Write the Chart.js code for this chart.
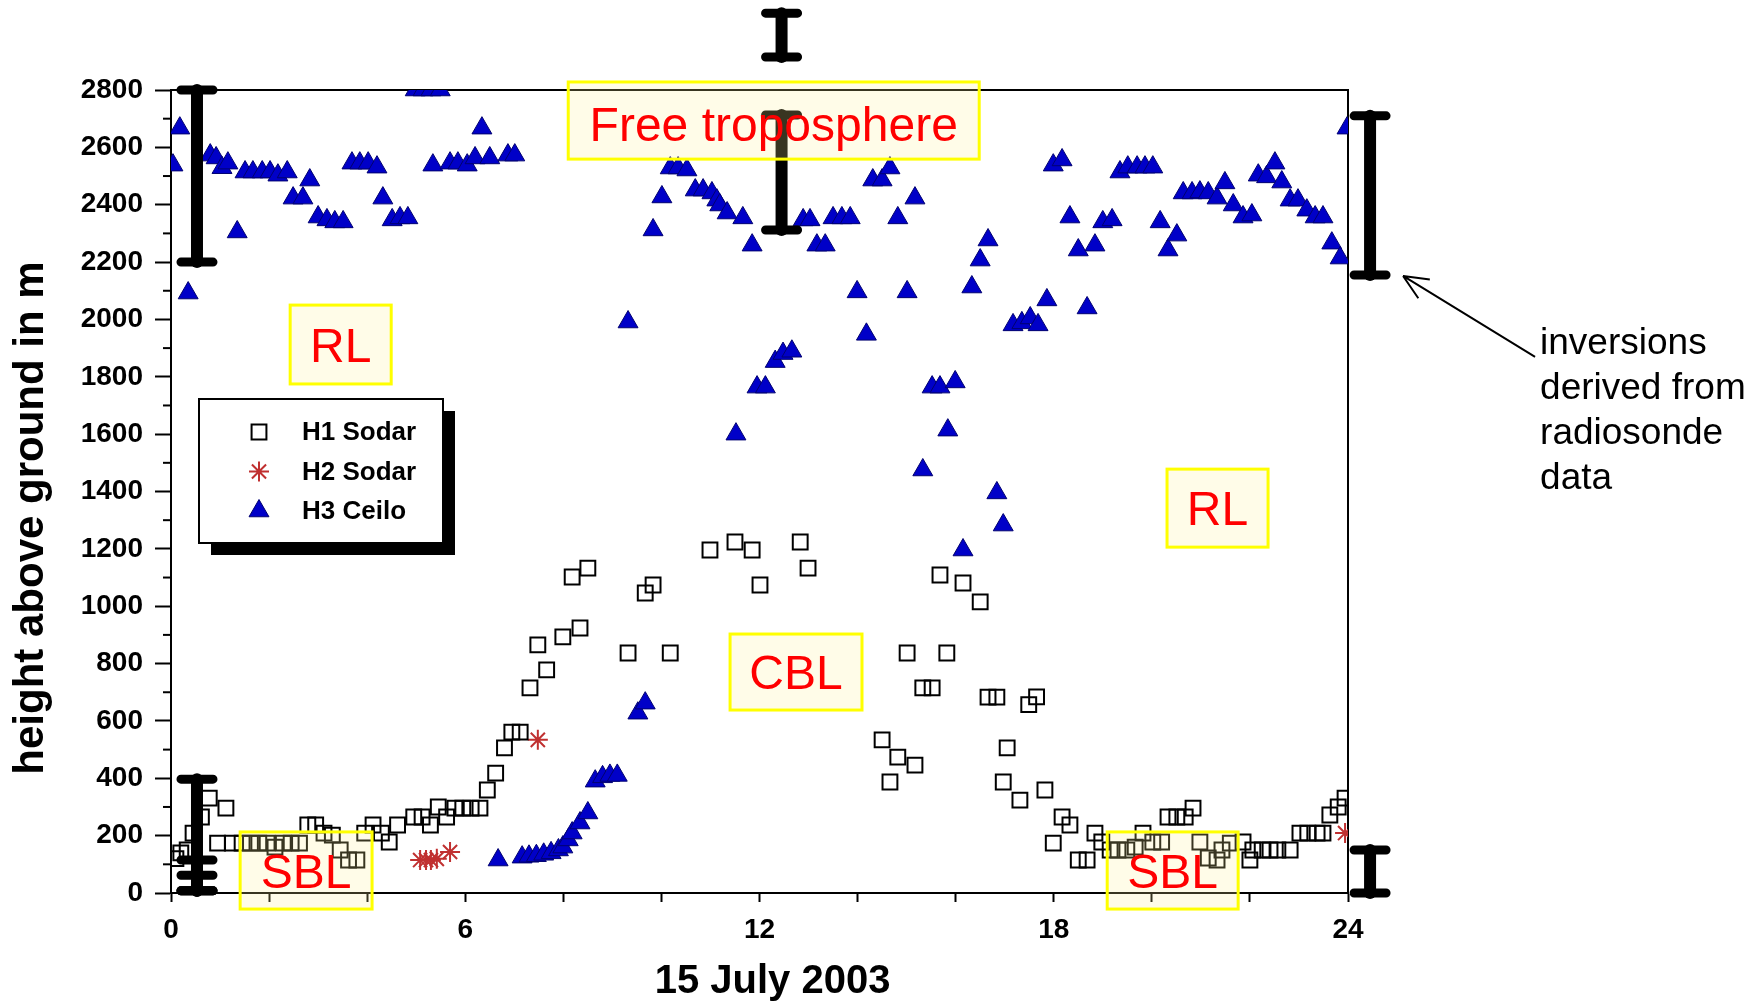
<!DOCTYPE html>
<html>
<head>
<meta charset="utf-8">
<script src="https://cdn.jsdelivr.net/npm/chart.js@4.4.0/dist/chart.umd.min.js"></script>
<style>
  html, body { margin: 0; padding: 0; background: #fff; }
  #wrap { width: 1760px; height: 1003px; }
</style>
</head>
<body>
<div id="wrap"><canvas id="chart" width="1760" height="1003"></canvas></div>
<script>
// H1 Sodar (hour of day, height in m)
const h1Hours = [0.10, 0.20, 0.33, 0.45, 0.62, 0.78, 0.95, 1.12, 1.25, 1.45, 1.62, 1.79, 1.96, 2.12, 2.29, 2.45, 2.62,
  2.79, 2.95, 3.12, 3.29, 3.45, 3.62, 3.79, 3.95, 4.12, 4.29, 4.45, 4.62, 4.95, 5.12, 5.29, 5.45, 5.62, 5.79, 5.95,
  6.12, 6.30, 6.45, 6.62, 6.80, 6.95, 7.12, 7.32, 7.48, 7.66, 7.99, 8.18, 8.34, 8.50, 9.32, 9.67, 9.83, 10.18,
  10.99, 11.50, 11.85, 12.01, 12.83, 12.99, 14.50, 14.66, 14.82, 15.01, 15.17, 15.33, 15.52, 15.68, 15.82, 16.15,
  16.50, 16.66, 16.84, 16.97, 17.05, 17.31, 17.49, 17.65, 17.82, 17.99, 18.17, 18.33, 18.50, 18.68, 18.84, 18.98,
  19.15, 19.31, 19.49, 19.66, 19.82, 20.02, 20.20, 20.33, 20.51, 20.68, 20.84, 20.98, 21.15, 21.33, 21.43, 21.60,
  21.86, 22.00, 22.06, 22.25, 22.41, 22.57, 22.82, 23.02, 23.18, 23.37, 23.49, 23.63, 23.80, 23.94];
const h1Heights = [120, 140, 150, 209, 265, 331, 174, 296, 174, 174, 174, 174, 174, 160, 174, 174, 174,
  237, 237, 209, 202, 150, 115, 115, 209, 237, 209, 178, 237, 265, 265, 237, 300, 265, 296, 296,
  296, 296, 359, 418, 506, 561, 561, 715, 865, 778, 893, 1102, 924, 1133, 837, 1046, 1074, 837,
  1196, 1224, 1196, 1074, 1224, 1133, 534, 387, 474, 837, 446, 715, 715, 1109, 837, 1081,
  1015, 683, 683, 387, 506, 324, 657, 684, 359, 174, 265, 237, 115, 115, 209, 178,
  150, 150, 150, 160, 209, 178, 178, 265, 265, 265, 296, 178, 122, 115, 150, 174,
  178, 115, 150, 150, 150, 150, 150, 209, 209, 209, 209, 272, 300, 331];

// H2 Sodar
const h2Hours = [5.08, 5.20, 5.30, 5.42, 5.69, 7.48, 23.94];
const h2Heights = [115, 115, 115, 119, 143, 534, 209];

// H3 Ceilo
const h3Hours = [0.04, 0.18, 0.35, 0.80, 0.92, 1.04, 1.16, 1.35, 1.51, 1.67, 1.86, 2.02, 2.18, 2.37, 2.49, 2.69,
  2.83, 3.00, 3.18, 3.34, 3.51, 3.69, 3.85, 4.02, 4.20, 4.32, 4.51, 4.67, 4.83, 4.98, 5.14, 5.30, 5.49, 5.34,
  5.69, 5.85, 6.04, 6.20, 6.34, 6.50, 6.87, 7.01,
  6.67, 7.16, 7.30, 7.45, 7.60, 7.75, 7.90, 7.99, 8.10, 8.18, 8.34, 8.50, 8.65, 8.80, 8.95, 9.10, 9.32, 9.52,
  9.67, 9.83, 10.01, 10.18, 10.34, 10.52, 10.69, 10.85, 11.03, 11.13, 11.19, 11.34, 11.52, 11.66, 11.85, 11.95,
  12.12, 12.32, 12.48, 12.66, 12.89, 13.03, 13.17, 13.34, 13.50, 13.68, 13.85, 13.99, 14.18, 14.31, 14.50, 14.66,
  14.82, 15.01, 15.17, 15.33, 15.52, 15.68, 15.84, 15.99, 16.15, 16.33, 16.50, 16.66, 16.84, 16.97, 17.17, 17.35,
  17.52, 17.68, 17.86, 17.99, 18.17, 18.33, 18.50, 18.68, 18.84, 19.00, 19.19, 19.35, 19.51, 19.70, 19.86, 20.02,
  20.17, 20.33, 20.51, 20.64, 20.82, 20.98, 21.15, 21.33, 21.49, 21.66, 21.86, 22.04, 22.17, 22.34, 22.51, 22.65,
  22.82, 22.98, 23.16, 23.33, 23.49, 23.67, 23.84, 23.98];
const h3Heights = [2538, 2667, 2092, 2573, 2563, 2529, 2545, 2305, 2514, 2514, 2514, 2514, 2503, 2514, 2423, 2423,
  2486, 2357, 2347, 2340, 2340, 2545, 2545, 2545, 2531, 2423, 2347, 2354, 2354, 2800, 2800, 2800, 2800, 2538,
  2545, 2545, 2538, 2563, 2667, 2563, 2573, 2573,
  115, 125, 128, 130, 135, 140, 150, 160, 185, 209, 244, 279, 390, 405, 410, 410, 1991, 627,
  662, 2312, 2427, 2528, 2528, 2521, 2451, 2451, 2441, 2416, 2399, 2371, 1600, 2354, 2259, 1764,
  1764, 1853, 1881, 1889, 2347, 2347, 2259, 2259, 2354, 2354, 2354, 2096, 1948, 2486, 2486, 2528,
  2354, 2096, 2423, 1475, 1764, 1764, 1614, 1782, 1196, 2113, 2207, 2277, 1395, 1283, 1981, 1988,
  2005, 1981, 2068, 2538, 2556, 2357, 2242, 2040, 2259, 2340, 2347, 2514, 2531, 2531, 2531, 2531,
  2340, 2242, 2294, 2441, 2441, 2444, 2441, 2423, 2476, 2399, 2357, 2364, 2503, 2497, 2545, 2479,
  2416, 2416, 2381, 2357, 2357, 2266, 2214, 2667];

// inversions derived from radiosonde data (hour, lower / upper height in m)
const inversionHours = [0.53, 0.53, 0.53, 0.53, 12.45, 12.45, 24.45, 24.45];
const inversionLow = [2200, 8, 8, 8, 2312, 2915, 2155, 0];
const inversionHigh = [2800, 397, 115, 62, 2713, 3068, 2710, 150];

// boundary layer labels (hour range, height range)
const regionNames = ['Free troposphere', 'RL', 'RL', 'CBL', 'SBL', 'SBL'];
const regionHourFrom = [8.10, 2.43, 20.31, 11.40, 1.41, 19.09];
const regionHourTo = [16.48, 4.49, 22.37, 14.09, 4.10, 21.76];
const regionLow = [2559, 1775, 1206, 638, -56, -56];
const regionHigh = [2828, 2050, 1478, 903, 213, 213];

const xLabelHours = [0, 6, 12, 18, 24];
const xTitle = '15 July 2003';
const yTitle = 'height above ground in m';
const noteLines = ['inversions', 'derived from', 'radiosonde', 'data'];

const FONT = 'Arial, "Liberation Sans", Helvetica, sans-serif';
Chart.defaults.font.family = FONT;
Chart.defaults.color = '#000';

const toPoints = (xs, ys) => xs.map((x, i) => ({ x: x, y: ys[i] }));

const overlay = {
    id: 'overlay',
    beforeDatasetsDraw(chart) {
        const { ctx, chartArea: a, scales: { y } } = chart;
        ctx.save();
        ctx.strokeStyle = '#000';
        ctx.lineWidth = 2;
        // top and right frame
        ctx.beginPath();
        ctx.moveTo(a.left, a.top);
        ctx.lineTo(a.right, a.top);
        ctx.lineTo(a.right, a.bottom);
        ctx.stroke();
        // minor ticks on y
        for (let v = 100; v < 2800; v += 200) {
            const py = y.getPixelForValue(v);
            ctx.beginPath();
            ctx.moveTo(a.left - 8, py);
            ctx.lineTo(a.left, py);
            ctx.stroke();
        }
        ctx.restore();
    },
    afterDraw(chart) {
        const { ctx, chartArea: a, scales: { x, y } } = chart;
        ctx.save();

        // radiosonde inversion bars
        ctx.strokeStyle = '#000';
        ctx.lineCap = 'round';
        inversionHours.forEach((t, i) => {
            const px = x.getPixelForValue(t);
            const y1 = y.getPixelForValue(inversionHigh[i]);
            const y2 = y.getPixelForValue(inversionLow[i]);
            ctx.lineWidth = 12;
            ctx.beginPath();
            ctx.moveTo(px, y1);
            ctx.lineTo(px, y2);
            ctx.stroke();
            ctx.lineWidth = 9;
            ctx.beginPath();
            ctx.moveTo(px - 16, y1); ctx.lineTo(px + 16, y1);
            ctx.moveTo(px - 16, y2); ctx.lineTo(px + 16, y2);
            ctx.stroke();
        });

        // region label boxes
        regionNames.forEach((name, i) => {
            const x1 = x.getPixelForValue(regionHourFrom[i]);
            const x2 = x.getPixelForValue(regionHourTo[i]);
            const y1 = y.getPixelForValue(regionHigh[i]);
            const y2 = y.getPixelForValue(regionLow[i]);
            ctx.fillStyle = 'rgba(255, 240, 150, 0.22)';
            ctx.fillRect(x1, y1, x2 - x1, y2 - y1);
            ctx.strokeStyle = '#ffff00';
            ctx.lineWidth = 3;
            ctx.lineCap = 'butt';
            ctx.strokeRect(x1, y1, x2 - x1, y2 - y1);
            ctx.fillStyle = '#ff0000';
            ctx.font = '48px ' + FONT;
            ctx.textAlign = 'center';
            ctx.textBaseline = 'middle';
            ctx.fillText(name, (x1 + x2) / 2, (y1 + y2) / 2 + (i === 0 ? 7 : 4));
        });

        // legend box with shadow
        const lx = a.left + 28, ly = a.top + 309, lw = 244, lh = 144;
        ctx.fillStyle = '#000';
        ctx.fillRect(lx + 12, ly + 12, lw, lh);
        ctx.fillStyle = '#fff';
        ctx.fillRect(lx, ly, lw, lh);
        ctx.strokeStyle = '#000';
        ctx.lineWidth = 2;
        ctx.strokeRect(lx, ly, lw, lh);
        chart.data.datasets.forEach((ds, i) => {
            const cy = ly + 33 + i * 39.5;
            ctx.save();
            ctx.strokeStyle = ds.borderColor;
            ctx.fillStyle = ds.backgroundColor;
            ctx.lineWidth = ds.borderWidth;
            Chart.helpers.drawPoint(ctx, {
                pointStyle: ds.pointStyle, radius: ds.pointRadius, rotation: 0, borderWidth: ds.borderWidth
            }, lx + 60, cy);
            ctx.restore();
            ctx.fillStyle = '#000';
            ctx.font = 'bold 26px ' + FONT;
            ctx.textAlign = 'left';
            ctx.textBaseline = 'middle';
            ctx.fillText(ds.label, lx + 103, cy + 1);
        });

        // arrow to the radiosonde bar and note
        const tipX = x.getPixelForValue(24.45) + 33;
        const tipY = y.getPixelForValue(2155) + 1;
        const tailX = tipX + 132, tailY = tipY + 81;
        ctx.strokeStyle = '#000';
        ctx.lineWidth = 2;
        ctx.beginPath();
        ctx.moveTo(tailX, tailY);
        ctx.lineTo(tipX, tipY);
        const ang = Math.atan2(tailY - tipY, tailX - tipX);
        [0.42, -0.42].forEach(d => {
            ctx.moveTo(tipX, tipY);
            ctx.lineTo(tipX + 27 * Math.cos(ang + d), tipY + 27 * Math.sin(ang + d));
        });
        ctx.stroke();
        ctx.fillStyle = '#000';
        ctx.font = '37px ' + FONT;
        ctx.textAlign = 'left';
        ctx.textBaseline = 'middle';
        noteLines.forEach((s, i) => ctx.fillText(s, tailX + 5, tailY - 13 + i * 45));

        // x axis title
        ctx.font = 'bold 40px ' + FONT;
        ctx.textAlign = 'center';
        ctx.textBaseline = 'middle';
        ctx.fillText(xTitle, (a.left + a.right) / 2 + 13, a.bottom + 89);

        // y axis title
        ctx.translate(31, a.bottom - 375);
        ctx.rotate(-Math.PI / 2);
        ctx.font = 'bold 42px ' + FONT;
        ctx.fillText(yTitle, 0, 0);
        ctx.restore();
    }
};

new Chart(document.getElementById('chart'), {
    type: 'scatter',
    data: {
        datasets: [
            {
                label: 'H1 Sodar',
                data: toPoints(h1Hours, h1Heights),
                pointStyle: 'rect',
                pointRadius: 10.5,
                borderWidth: 2,
                borderColor: '#000',
                backgroundColor: 'rgba(0,0,0,0)',
                clip: 0
            },
            {
                label: 'H2 Sodar',
                data: toPoints(h2Hours, h2Heights),
                pointStyle: 'star',
                pointRadius: 10,
                borderWidth: 2,
                borderColor: '#c03030',
                backgroundColor: '#c03030',
                clip: 0
            },
            {
                label: 'H3 Ceilo',
                data: toPoints(h3Hours, h3Heights),
                pointStyle: 'triangle',
                pointRadius: 11.5,
                borderWidth: 1,
                borderColor: '#000070',
                backgroundColor: '#0000c8',
                clip: 0
            }
        ]
    },
    options: {
        responsive: false,
        animation: false,
        events: [],
        layout: { padding: { left: 0, right: 412, top: 90, bottom: 0 } },
        plugins: {
            legend: { display: false },
            tooltip: { enabled: false }
        },
        scales: {
            x: {
                type: 'linear',
                min: 0,
                max: 24,
                afterFit: (s) => { s.height = 110; },
                ticks: {
                    stepSize: 2,
                    autoSkip: false,
                    maxRotation: 0,
                    padding: 11,
                    font: { size: 28, weight: 'bold' },
                    callback: (v) => xLabelHours.includes(v) ? String(v) : ''
                },
                grid: { drawOnChartArea: false, drawTicks: true, tickLength: 9, tickColor: '#000', tickWidth: 2 },
                border: { color: '#000', width: 2 }
            },
            y: {
                min: 0,
                max: 2800,
                afterFit: (s) => { s.width = 171; },
                ticks: {
                    stepSize: 200,
                    padding: 12,
                    font: { size: 28, weight: 'bold' },
                    callback: (v) => String(v)
                },
                grid: { drawOnChartArea: false, drawTicks: true, tickLength: 16, tickColor: '#000', tickWidth: 2 },
                border: { color: '#000', width: 2 }
            }
        }
    },
    plugins: [overlay]
});
</script>
</body>
</html>
